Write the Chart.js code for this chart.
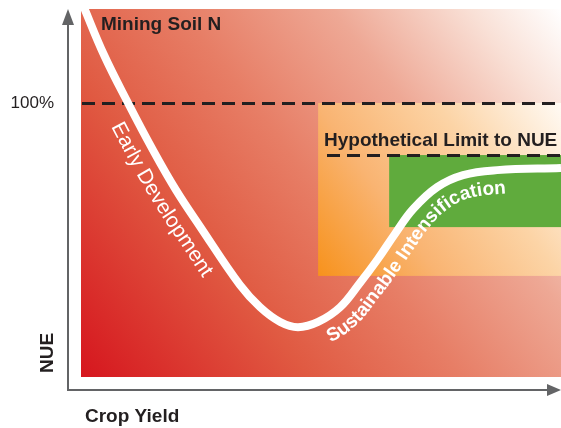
<!DOCTYPE html>
<html>
<head>
<meta charset="utf-8">
<script src="https://cdn.jsdelivr.net/npm/chart.js@4/dist/chart.umd.min.js"></script>
<style>
  html, body { margin: 0; padding: 0; background: #fff; }
  #wrap { width: 561px; height: 428px; }
</style>
</head>
<body>
<div id="wrap"><canvas id="nueChart" width="561" height="428"></canvas></div>
<script>
// crop yield (x) vs NUE (y, % where 100 = the dashed 100% line)
const cropYield = [0.04, 0.48, 0.98, 1.5, 1.98, 2.5, 3.31, 3.73, 4.15, 4.52, 4.94, 5.40, 5.81, 6.17, 6.54, 6.92, 7.42, 7.96, 8.67, 10];
const nue       = [135.8, 117.5, 100, 82.8, 68.2, 54.4, 33.6, 25.5, 20.1, 18.2, 20.1, 25.5, 34.3, 42.7, 52.2, 61.3, 69.3, 73.7, 75.5, 76.3];

const yTickLabels = ['100%'];
const fullNue = 100;
const hypotheticalNue = 81;
const limitFrom = 5.125;

// shaded zones, in data units
const orangeZoneX = [4.94, 10];
const orangeZoneY = [36.9, 100];
const greenZoneX = [6.42, 10];
const greenZoneY = [54.7, 81];

const curveLabels = [
  { text: 'Early Development', from: 1.1, font: '21px "Liberation Sans", Arial, sans-serif', off: 26 },
  { text: 'Sustainable Intensification', from: 4.98, font: 'bold 19px "Liberation Sans", Arial, sans-serif', off: 24 }
];

const ink = '#231f20';
const axisGrey = '#636466';

// sample the drawn bezier line into a dense polyline
function samplePath(meta) {
  const pts = meta.data;
  const out = [];
  for (let i = 0; i < pts.length - 1; i++) {
    const a = pts[i], b = pts[i + 1];
    const c1x = a.cp2x ?? a.x, c1y = a.cp2y ?? a.y;
    const c2x = b.cp1x ?? b.x, c2y = b.cp1y ?? b.y;
    for (let k = 0; k < 40; k++) {
      const t = k / 40, u = 1 - t;
      out.push({
        x: u*u*u*a.x + 3*u*u*t*c1x + 3*u*t*t*c2x + t*t*t*b.x,
        y: u*u*u*a.y + 3*u*u*t*c1y + 3*u*t*t*c2y + t*t*t*b.y
      });
    }
  }
  const last = pts[pts.length - 1];
  out.push({ x: last.x, y: last.y });
  return out;
}

function textOnPath(ctx, path, startX, label) {
  let i0 = path.findIndex(p => p.x >= startX);
  if (i0 < 0) return;
  const q = [];
  for (let i = i0; i < path.length; i++) {
    const p0 = path[Math.max(i - 6, 0)], p1 = path[Math.min(i + 6, path.length - 1)];
    let tx = p1.x - p0.x, ty = p1.y - p0.y;
    const len = Math.hypot(tx, ty) || 1;
    tx /= len; ty /= len;
    q.push({ x: path[i].x - ty * label.off, y: path[i].y + tx * label.off });
  }
  const L = [0];
  for (let i = 1; i < q.length; i++) L.push(L[i - 1] + Math.hypot(q[i].x - q[i-1].x, q[i].y - q[i-1].y));

  ctx.save();
  ctx.font = label.font;
  ctx.fillStyle = '#fff';
  ctx.textAlign = 'center';
  ctx.textBaseline = 'alphabetic';
  let s = 0;
  for (const ch of label.text) {
    const w = ctx.measureText(ch).width;
    const mid = s + w / 2;
    let j = 0;
    while (j < L.length - 2 && L[j + 1] < mid) j++;
    const f = (mid - L[j]) / ((L[j + 1] - L[j]) || 1);
    const x = q[j].x + (q[j + 1].x - q[j].x) * f;
    const y = q[j].y + (q[j + 1].y - q[j].y) * f;
    // use a wider window for a steadier angle
    const a = q[Math.max(j - 4, 0)], b = q[Math.min(j + 5, q.length - 1)];
    const ang = Math.atan2(b.y - a.y, b.x - a.x);
    ctx.save();
    ctx.translate(x, y);
    ctx.rotate(ang);
    ctx.fillText(ch, 0, 0);
    ctx.restore();
    s += w;
  }
  ctx.restore();
}

const backdrop = {
  id: 'backdrop',
  beforeDatasetsDraw(chart) {
    const { ctx, chartArea: a, scales: { x, y } } = chart;
    ctx.save();

    let g = ctx.createLinearGradient(a.left, a.bottom, a.right, a.top);
    g.addColorStop(0, '#d6161e');
    g.addColorStop(0.3, '#e05a42');
    g.addColorStop(0.5, '#e77e66');
    g.addColorStop(0.7, '#eea895');
    g.addColorStop(0.88, '#f9e0d6');
    g.addColorStop(1, '#ffffff');
    ctx.fillStyle = g;
    ctx.fillRect(a.left, a.top, a.right - a.left, a.bottom - a.top);

    const ox0 = x.getPixelForValue(orangeZoneX[0]), ox1 = x.getPixelForValue(orangeZoneX[1]);
    const oy0 = y.getPixelForValue(orangeZoneY[0]), oy1 = y.getPixelForValue(orangeZoneY[1]);
    g = ctx.createLinearGradient(ox0, oy0, ox1, oy1);
    g.addColorStop(0, '#f7921c');
    g.addColorStop(0.33, '#f9b472');
    g.addColorStop(0.66, '#fcd4a6');
    g.addColorStop(1, '#fffaf4');
    ctx.fillStyle = g;
    ctx.fillRect(ox0, oy1, ox1 - ox0, oy0 - oy1);

    const gx0 = x.getPixelForValue(greenZoneX[0]), gx1 = x.getPixelForValue(greenZoneX[1]);
    const gy0 = y.getPixelForValue(greenZoneY[0]), gy1 = y.getPixelForValue(greenZoneY[1]);
    ctx.fillStyle = '#60ab3d';
    ctx.fillRect(gx0, gy1, gx1 - gx0, gy0 - gy1);

    ctx.strokeStyle = ink;
    ctx.lineWidth = 3;
    ctx.setLineDash([13, 7]);
    let py = Math.round(y.getPixelForValue(fullNue)) + 0.5;
    ctx.beginPath(); ctx.moveTo(a.left + 1, py); ctx.lineTo(a.right, py); ctx.stroke();
    py = Math.round(y.getPixelForValue(hypotheticalNue)) + 0.5;
    ctx.beginPath(); ctx.moveTo(x.getPixelForValue(limitFrom), py); ctx.lineTo(a.right, py); ctx.stroke();
    ctx.restore();
  },
  afterDatasetsDraw(chart) {
    const { ctx, chartArea: a, scales: { x, y } } = chart;
    const path = samplePath(chart.getDatasetMeta(0));
    curveLabels.forEach(l => textOnPath(ctx, path, x.getPixelForValue(l.from), l));

    ctx.save();
    ctx.fillStyle = ink;
    ctx.font = 'bold 19px "Liberation Sans", Arial, sans-serif';
    ctx.textAlign = 'left';
    ctx.textBaseline = 'alphabetic';
    ctx.fillText('Mining Soil N', a.left + 20, a.top + 21);
    ctx.fillText('Hypothetical Limit to NUE', x.getPixelForValue(limitFrom) - 3, y.getPixelForValue(hypotheticalNue) - 9);
    ctx.restore();
  },
  afterDraw(chart) {
    const { ctx, chartArea: a, scales: { y } } = chart;
    const ax = a.left - 13, ay = a.bottom + 13;
    ctx.save();
    ctx.strokeStyle = axisGrey;
    ctx.fillStyle = axisGrey;
    ctx.lineWidth = 2;
    ctx.beginPath();
    ctx.moveTo(ax, 22); ctx.lineTo(ax, ay); ctx.lineTo(chart.width - 12, ay);
    ctx.stroke();
    ctx.beginPath(); // y arrow
    ctx.moveTo(ax, 9); ctx.lineTo(ax - 6, 25); ctx.lineTo(ax + 6, 25); ctx.closePath(); ctx.fill();
    ctx.beginPath(); // x arrow
    ctx.moveTo(chart.width, ay); ctx.lineTo(chart.width - 14, ay - 6); ctx.lineTo(chart.width - 14, ay + 6); ctx.closePath(); ctx.fill();

    ctx.fillStyle = ink;
    ctx.font = '17px "Liberation Sans", Arial, sans-serif';
    ctx.textAlign = 'right';
    ctx.textBaseline = 'middle';
    ctx.fillText(yTickLabels[0], 54, y.getPixelForValue(fullNue));

    ctx.font = 'bold 19px "Liberation Sans", Arial, sans-serif';
    ctx.textAlign = 'left';
    ctx.textBaseline = 'alphabetic';
    ctx.fillText('Crop Yield', 85, 422);

    ctx.save();
    ctx.translate(53, 353);
    ctx.rotate(-Math.PI / 2);
    ctx.textAlign = 'center';
    ctx.fillText('NUE', 0, 0);
    ctx.restore();
    ctx.restore();
  }
};

new Chart(document.getElementById('nueChart'), {
  type: 'line',
  data: {
    datasets: [{
      data: cropYield.map((v, i) => ({ x: v, y: nue[i] })),
      borderColor: '#ffffff',
      borderWidth: 8,
      pointRadius: 0,
      fill: false,
      tension: 0.4
    }]
  },
  options: {
    responsive: false,
    animation: false,
    devicePixelRatio: 1,
    layout: { padding: { left: 81, top: 9, right: 0, bottom: 51 } },
    scales: {
      x: { type: 'linear', min: 0, max: 10, display: false },
      y: { type: 'linear', min: 0, max: 134.3, display: false }
    },
    plugins: { legend: { display: false }, tooltip: { enabled: false } }
  },
  plugins: [backdrop]
});
</script>
</body>
</html>
